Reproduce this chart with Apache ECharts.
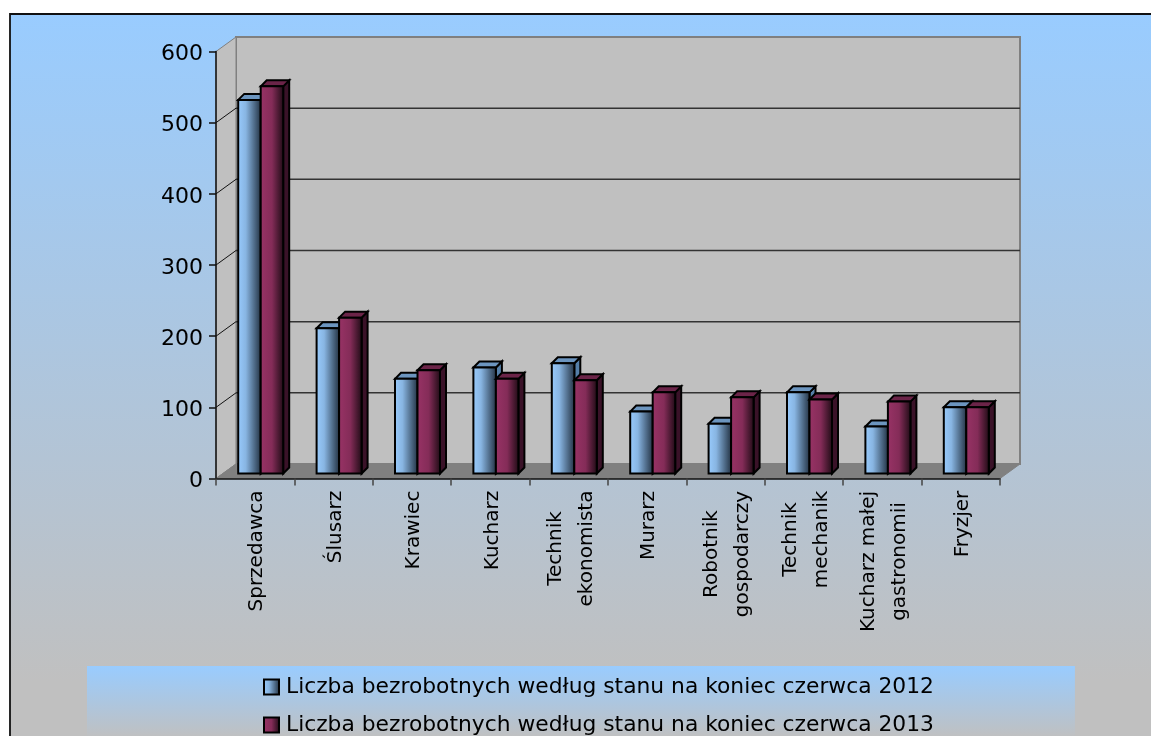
<!DOCTYPE html>
<html>
<head>
<meta charset="utf-8">
<style>
  html, body { margin: 0; padding: 0; background: #fff; }
  #chart { width: 1151px; height: 736px; }
</style>
<script src="https://cdn.jsdelivr.net/npm/echarts@6/dist/echarts.min.js"></script>
</head>
<body>
<div id="chart"></div>
<script>
const categories = ['Sprzedawca', 'Ślusarz', 'Krawiec', 'Kucharz', 'Technik\nekonomista', 'Murarz',
  'Robotnik\ngospodarczy', 'Technik\nmechanik', 'Kucharz małej\ngastronomii', 'Fryzjer'];
const series2012 = [525, 204, 133, 149, 155, 87, 70, 114, 66, 93];
const series2013 = [544, 219, 145, 133, 131, 114, 107, 104, 101, 93];
const name2012 = 'Liczba bezrobotnych według stanu na koniec czerwca 2012';
const name2013 = 'Liczba bezrobotnych według stanu na koniec czerwca 2013';
const gridValues = [100, 200, 300, 400, 500];

const FONT = '"DejaVu Sans", Verdana, sans-serif';
const WALL = [20, -14.5];      // depth of the box
const BAR_SHIFT = [5.5, -5];   // bars stand a bit inside the floor
const BAR_DEPTH = [6, -6];
const BAR_W = 22.5;

function vGrad(from, to) {
  return new echarts.graphic.LinearGradient(0, 0, 0, 1, [
    { offset: 0, color: from }, { offset: 1, color: to }
  ]);
}
function hGrad(stops) {
  return new echarts.graphic.LinearGradient(0, 0, 1, 0, stops);
}
const blueFace = () => hGrad([{ offset: 0, color: '#99ccff' }, { offset: 0.35, color: '#88b5e2' }, { offset: 1, color: '#1f2d3d' }]);
const redFace = () => hGrad([{ offset: 0, color: '#993366' }, { offset: 0.5, color: '#842c58' }, { offset: 1, color: '#1a0a12' }]);

// keep multi line labels centred on each other, the block itself hangs from the axis
const ctx = document.createElement('canvas').getContext('2d');
ctx.font = '20px "DejaVu Sans"';
const labelRich = {};
categories.forEach((c, i) => {
  labelRich['c' + i] = {
    width: Math.ceil(Math.max(...c.split('\n').map(l => ctx.measureText(l).width))),
    align: 'center', fontSize: 20, fontFamily: FONT, color: '#000', lineHeight: 31
  };
});

function renderWalls(params, api) {
  const g = params.coordSys;
  const [dx, dy] = WALL;
  const style = { fill: '#c0c0c0', stroke: '#808080', lineWidth: 2 };
  return {
    type: 'group',
    children: [
      { type: 'polygon', shape: { points: [[g.x + dx, g.y + dy], [g.x + g.width + dx, g.y + dy], [g.x + g.width + dx, g.y + g.height + dy], [g.x + dx, g.y + g.height + dy]] }, style },
      { type: 'polygon', shape: { points: [[g.x, g.y], [g.x + dx, g.y + dy], [g.x + dx, g.y + g.height + dy], [g.x, g.y + g.height]] }, style: { fill: '#c0c0c0', stroke: '#808080', lineWidth: 1 } },
      { type: 'polygon', shape: { points: [[g.x, g.y + g.height], [g.x + g.width, g.y + g.height], [g.x + g.width + dx, g.y + g.height + dy], [g.x + dx, g.y + g.height + dy]] }, style: { fill: '#808080', stroke: '#808080', lineWidth: 1 } }
    ]
  };
}

function renderGridline(params, api) {
  const g = params.coordSys;
  const y = api.coord([0, api.value(0)])[1];
  const [dx, dy] = WALL;
  return {
    type: 'group',
    children: [
      { type: 'line', shape: { x1: g.x, y1: y, x2: g.x + dx, y2: y + dy }, style: { stroke: '#111', lineWidth: 1 } },
      { type: 'line', shape: { x1: g.x + dx, y1: y + dy, x2: g.x + g.width + dx, y2: y + dy }, style: { stroke: '#333', lineWidth: 1.5 } }
    ]
  };
}

function barRenderer(side, face, topColor, sideColor) {
  return function (params, api) {
    const top = api.coord([api.value(0), api.value(1)]);
    const base = api.coord([api.value(0), 0]);
    const x0 = top[0] + BAR_SHIFT[0] + (side < 0 ? -BAR_W : 0);
    const x1 = x0 + BAR_W;
    const yT = top[1] + BAR_SHIFT[1];
    const yB = base[1] + BAR_SHIFT[1];
    const [bx, by] = BAR_DEPTH;
    const edge = { stroke: '#000', lineWidth: 2, lineJoin: 'miter' };
    return {
      type: 'group',
      children: [
        { type: 'polygon', shape: { points: [[x1, yT], [x1 + bx, yT + by], [x1 + bx, yB + by], [x1, yB]] }, style: { fill: sideColor, ...edge } },
        { type: 'polygon', shape: { points: [[x0, yT], [x0 + bx, yT + by], [x1 + bx, yT + by], [x1, yT]] }, style: { fill: topColor, ...edge } },
        { type: 'rect', shape: { x: x0, y: yT, width: BAR_W, height: yB - yT }, style: { fill: face(), ...edge } }
      ]
    };
  };
}

const chart = echarts.init(document.getElementById('chart'));
chart.setOption({
  animation: false,
  textStyle: { fontFamily: FONT },
  graphic: [{
    type: 'rect', z: -10, silent: true,
    shape: { x: 10, y: 14, width: 1160, height: 740 },
    style: {
      stroke: '#111', lineWidth: 1.8,
      fill: new echarts.graphic.LinearGradient(0, 0, 0, 1, [
        { offset: 0, color: '#99ccff' }, { offset: 0.9, color: '#c0c0c0' }, { offset: 1, color: '#c0c0c0' }
      ])
    }
  }],
  grid: { left: 216, top: 51.5, width: 784, height: 427 },
  xAxis: {
    type: 'category', data: categories, z: 5,
    axisLine: { lineStyle: { color: '#111', width: 1.5 } },
    axisTick: { show: true, length: 7, lineStyle: { color: '#444', width: 1.5 } },
    axisLabel: {
      interval: 0, rotate: 90, margin: 12, padding: [4, 0, 0, 0],
      formatter: (v, i) => v.split('\n').map(l => `{c${i}|${l}}`).join('\n'),
      rich: labelRich
    }
  },
  yAxis: {
    type: 'value', min: 0, max: 600, interval: 100, z: 5,
    splitLine: { show: false },
    axisLine: { show: true, lineStyle: { color: '#111', width: 1.5 } },
    axisTick: { show: true, length: 7, lineStyle: { color: '#111', width: 1.5 } },
    axisLabel: {
      margin: 13,
      formatter: '{v|{value}}',
      rich: { v: { fontSize: 22, color: '#000', fontFamily: FONT, padding: [6, 0, 0, 0] } }
    }
  },
  legend: {
    orient: 'vertical', left: 87, top: 666, height: 110,
    padding: [10, 141, 2, 176],
    itemWidth: 15, itemHeight: 15, itemGap: 16,
    backgroundColor: vGrad('#99ccff', '#c0c0c0'),
    textStyle: { fontSize: 21.8, color: '#000', fontFamily: FONT, padding: [0, 0, 0, 2] },
    data: [
      { name: name2012, icon: 'rect', itemStyle: { color: blueFace(), borderColor: '#000', borderWidth: 2 } },
      { name: name2013, icon: 'rect', itemStyle: { color: redFace(), borderColor: '#000', borderWidth: 2 } }
    ]
  },
  series: [
    { type: 'custom', silent: true, z: 1, data: [[0]], renderItem: renderWalls },
    { type: 'custom', silent: true, z: 1.5, data: gridValues.map(v => [v]), encode: { y: 0 }, renderItem: renderGridline },
    { type: 'custom', name: name2012, silent: true, z: 3, data: series2012.map((v, i) => [i, v]), encode: { x: 0, y: 1 }, renderItem: barRenderer(-1, blueFace, '#6c95bf', '#557fa8') },
    { type: 'custom', name: name2013, silent: true, z: 4, data: series2013.map((v, i) => [i, v]), encode: { x: 0, y: 1 }, renderItem: barRenderer(1, redFace, '#6b2448', '#3a1228') }
  ]
});
</script>
</body>
</html>
